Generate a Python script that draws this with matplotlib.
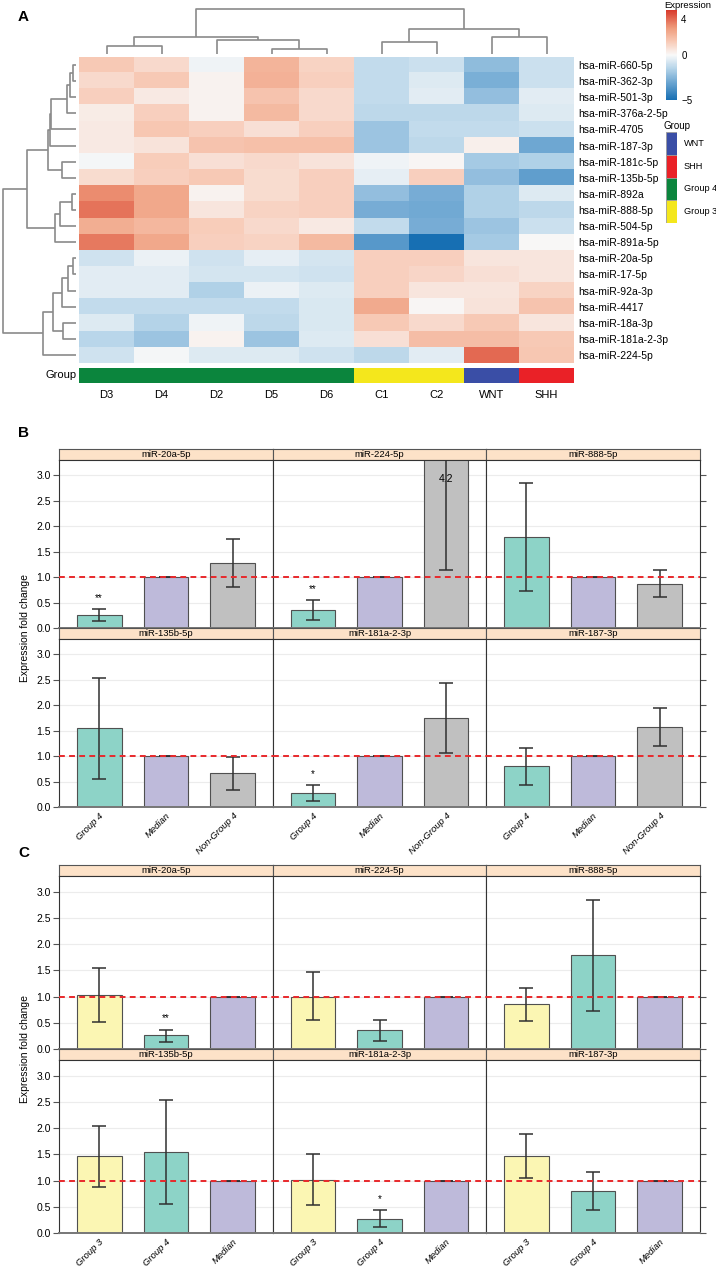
import matplotlib
matplotlib.use("Agg")
import matplotlib.pyplot as plt
import numpy as np
from matplotlib.colors import LinearSegmentedColormap, ListedColormap
from matplotlib.patches import Rectangle

plt.rcParams['font.family'] = ['Liberation Sans', 'DejaVu Sans']

# ---------------- data: panel A ----------------
samples = ['D3', 'D4', 'D2', 'D5', 'D6', 'C1', 'C2', 'WNT', 'SHH']
sample_group = ['Group 4'] * 5 + ['Group 3'] * 2 + ['WNT', 'SHH']
mirnas = ['hsa-miR-660-5p', 'hsa-miR-362-3p', 'hsa-miR-501-3p', 'hsa-miR-376a-2-5p',
          'hsa-miR-4705', 'hsa-miR-187-3p', 'hsa-miR-181c-5p', 'hsa-miR-135b-5p',
          'hsa-miR-892a', 'hsa-miR-888-5p', 'hsa-miR-504-5p', 'hsa-miR-891a-5p',
          'hsa-miR-20a-5p', 'hsa-miR-17-5p', 'hsa-miR-92a-3p', 'hsa-miR-4417',
          'hsa-miR-18a-3p', 'hsa-miR-181a-2-3p', 'hsa-miR-224-5p']
expression = [
    [1.5, 1.0, -0.2, 2.2, 1.2, -1.2, -1.0, -2.3, -1.0],
    [1.0, 1.5, 0.2, 2.3, 1.3, -1.2, -0.6, -2.7, -1.0],
    [1.3, 0.5, 0.2, 1.7, 1.0, -1.2, -0.5, -2.2, -0.5],
    [0.4, 1.3, 0.2, 2.0, 1.0, -1.3, -1.3, -1.3, -0.6],
    [0.5, 1.6, 1.3, 0.8, 1.3, -2.0, -1.2, -1.2, -1.0],
    [0.5, 0.7, 1.7, 1.8, 1.8, -2.0, -1.3, 0.3, -3.0],
    [-0.1, 1.4, 0.8, 1.0, 0.7, -0.2, 0.1, -1.8, -1.6],
    [0.9, 1.3, 1.5, 0.9, 1.3, -0.4, 1.3, -2.2, -3.3],
    [3.3, 2.6, 0.2, 0.9, 1.3, -2.2, -2.8, -1.6, -0.6],
    [3.8, 2.6, 0.6, 1.2, 1.3, -2.8, -2.9, -1.6, -1.3],
    [2.4, 2.1, 1.4, 1.0, 0.5, -1.2, -2.8, -2.0, -1.0],
    [3.7, 2.6, 1.3, 1.2, 2.0, -3.5, -5.0, -1.8, 0.05],
    [-0.9, -0.3, -0.9, -0.4, -0.8, 1.3, 1.3, 0.6, 0.6],
    [-0.5, -0.5, -0.8, -0.8, -0.9, 1.3, 1.1, 0.8, 0.6],
    [-0.5, -0.5, -1.6, -0.3, -0.6, 1.3, 0.6, 0.6, 1.2],
    [-1.2, -1.2, -1.2, -1.2, -0.7, 2.5, 0.1, 0.7, 1.7],
    [-0.6, -1.5, -0.2, -1.3, -0.7, 1.5, 1.0, 1.5, 0.6],
    [-1.4, -2.0, 0.2, -2.0, -0.6, 0.8, 1.9, 1.9, 1.5],
    [-0.9, -0.1, -0.6, -0.6, -0.9, -1.3, -0.5, 4.0, 1.6],
]
# dendrograms: (left, right, height), leaves are row/column indices
row_tree = ((((((0, 1, 0.04), 2, 0.08), 3, 0.12), 4, 0.34), 5, 0.36), (6, 7, 0.19), 0.38)
row_tree = (row_tree, (((8, 9, 0.05), 10, 0.22), 11, 0.29), 0.67)
row_tree = (row_tree, (((((12, 13, 0.04), 14, 0.11), 15, 0.19), (16, 17, 0.18), 0.32), 18, 0.45), 1.0)
col_tree = (((0, 1, 0.18), (2, (3, 4, 0.11), 0.31), 0.38), ((5, 6, 0.27), (7, 8, 0.38), 0.56), 1.0)

group_names = ['WNT', 'SHH', 'Group 4', 'Group 3']
group_colors = ['#3a4ea6', '#ea2127', '#0b853d', '#f4e71c']

# ---------------- data: panels B and C ----------------
genes = ['miR-20a-5p', 'miR-224-5p', 'miR-888-5p', 'miR-135b-5p', 'miR-181a-2-3p', 'miR-187-3p']
g4 = [0.26, 0.36, 1.79, 1.55, 0.27, 0.80]
g4_lo = [0.14, 0.16, 0.73, 0.55, 0.11, 0.43]
g4_hi = [0.37, 0.55, 2.84, 2.53, 0.43, 1.16]
median = [1.0, 1.0, 1.0, 1.0, 1.0, 1.0]
nong4 = [1.28, 4.2, 0.87, 0.66, 1.75, 1.57]
nong4_lo = [0.81, 1.14, 0.61, 0.33, 1.06, 1.20]
nong4_hi = [1.75, 7.26, 1.13, 0.99, 2.43, 1.94]
g3 = [1.03, 1.00, 0.85, 1.46, 1.02, 1.46]
g3_lo = [0.51, 0.55, 0.54, 0.88, 0.54, 1.04]
g3_hi = [1.54, 1.46, 1.16, 2.05, 1.51, 1.88]
stars_b = {0: (0, '**'), 1: (0, '**'), 4: (0, '*')}
stars_c = {0: (1, '**'), 4: (1, '*')}

W, H = 716, 1272
fig = plt.figure(figsize=(W / 100, H / 100), dpi=100)


def ax_px(x0, y0, x1, y1, **kw):
    return fig.add_axes([x0 / W, 1 - y1 / H, (x1 - x0) / W, (y1 - y0) / H], **kw)


def draw_tree(ax, node, orient):
    # returns (position, height); draws the U links
    if isinstance(node, int):
        return node + 0.5, 0.0
    a, b, h = node
    pa, ha = draw_tree(ax, a, orient)
    pb, hb = draw_tree(ax, b, orient)
    p = [pa, pa, pb, pb]
    q = [ha, h, h, hb]
    if orient == 'top':
        ax.plot(p, q, color='#8a8a8a', lw=1.2, solid_capstyle='butt')
    else:
        ax.plot(q, p, color='#8a8a8a', lw=1.2, solid_capstyle='butt')
    return (pa + pb) / 2, h


# ---------------- panel A ----------------
fig.text(18 / W, 1 - 17 / H, 'A', fontsize=11, fontweight='bold', va='center')

cmap = LinearSegmentedColormap.from_list('expr', [
    (0.0, '#176fb3'), (0.2, '#6ea7d2'), (0.35, '#b5d4e9'), (0.5, '#f9f9f9'),
    (0.65, '#f8cab6'), (0.8, '#ef9c7c'), (1.0, '#d8392b')])

hm = ax_px(79, 57, 574, 363)
im = hm.imshow(np.array(expression), cmap=cmap, vmin=-5, vmax=5, aspect='auto',
               interpolation='nearest', extent=(0, 9, len(mirnas), 0))
hm.set_xticks([])
hm.yaxis.tick_right()
hm.set_yticks(np.arange(len(mirnas)) + 0.5)
hm.set_yticklabels(mirnas, fontsize=7.5)
hm.tick_params(axis='y', length=0, pad=3)
for s in hm.spines.values():
    s.set_visible(False)

rd = ax_px(0, 57, 79, 363)
draw_tree(rd, row_tree, 'left')
rd.set_ylim(len(mirnas), 0)
rd.set_xlim(76 / 73, -3 / 73)
rd.axis('off')

cd = ax_px(79, 0, 574, 57)
draw_tree(cd, col_tree, 'top')
cd.set_xlim(0, 9)
cd.set_ylim(-3 / 45, 54 / 45)
cd.axis('off')

gb = ax_px(79, 368, 574, 383)
gidx = [[group_names.index(g) for g in sample_group]]
gb.imshow(gidx, cmap=ListedColormap(group_colors), vmin=-0.5, vmax=3.5, aspect='auto',
          extent=(0, 9, 1, 0), interpolation='nearest')
gb.set_yticks([])
gb.set_xticks(np.arange(9) + 0.5)
gb.set_xticklabels(samples, fontsize=8)
gb.tick_params(axis='x', length=0, pad=5)
for s in gb.spines.values():
    s.set_visible(False)
gb.text(-0.004, 0.5, 'Group', transform=gb.transAxes, ha='right', va='center', fontsize=8)

cax = ax_px(666, 10, 677, 100)
cb = fig.colorbar(im, cax=cax, ticks=[4, 0, -5])
cb.ax.set_yticklabels(['4', '0', '\u22125'], fontsize=7)
cb.ax.tick_params(length=0, pad=3)
cb.outline.set_visible(False)
fig.text(664 / W, 1 - 5 / H, 'Expression', fontsize=6.8, va='center', ha='left')

lg = ax_px(666, 132, 677, 223)
for i, (name, col) in enumerate(zip(group_names, group_colors)):
    lg.add_patch(Rectangle((0, 3 - i), 1, 1, facecolor=col, edgecolor='#9a9a9a', lw=0.6))
    lg.text(1.6, 3.5 - i, name, fontsize=6.6, va='center', ha='left')
lg.set_xlim(0, 1)
lg.set_ylim(0, 4)
lg.axis('off')
fig.text(664 / W, 1 - 126 / H, 'Group', fontsize=7, va='center', ha='left')


# ---------------- panels B and C ----------------
def bar_panels(top_px, row_h, strip_h, cats, series, colors, stars, letter, letter_y):
    fig.text(18 / W, 1 - letter_y / H, letter, fontsize=11, fontweight='bold', va='center')
    xs = [59, 273, 486, 700]
    for k, gene in enumerate(genes):
        r, c = divmod(k, 3)
        y0 = top_px + r * (row_h + strip_h)
        st = ax_px(xs[c], y0, xs[c + 1], y0 + strip_h)
        st.set_facecolor('#fde2c8')
        st.set_xticks([])
        st.set_yticks([])
        for s in st.spines.values():
            s.set_color('#555555')
            s.set_linewidth(0.8)
        st.text(0.5, 0.5, gene, ha='center', va='center', fontsize=6.8, transform=st.transAxes)

        ax = ax_px(xs[c], y0 + strip_h, xs[c + 1], y0 + strip_h + row_h)
        ax.set_xlim(0.4, 3.6)
        ax.set_ylim(0, 3.3)
        ax.set_yticks(np.arange(0, 3.01, 0.5))
        ax.grid(axis='y', color='#ececec', lw=0.8)
        ax.set_axisbelow(True)
        pos = [1, 2, 3]
        for j, (vals, lo, hi) in enumerate(series):
            v = vals[k]
            ax.bar(pos[j], v, width=0.67, color=colors[j], edgecolor='#505050', lw=0.8, zorder=2)
            ax.errorbar(pos[j], v, yerr=[[v - lo[k]], [hi[k] - v]], color='#303030', lw=1.1,
                        capsize=5, capthick=1.1, zorder=4)
            if v > 3.3:
                ax.text(pos[j], 2.93, f'{v:.1f}', ha='center', va='center', fontsize=7.5, zorder=3)
        if k in stars:
            j, s = stars[k]
            ax.text(pos[j], series[j][2][k] + 0.22, s, ha='center', va='center', fontsize=7)
        ax.axhline(1.0, color='#e8282b', lw=1.4, ls=(0, (3, 2.2)), zorder=5)
        for name in ['top', 'left', 'right']:
            ax.spines[name].set_color('#333333')
            ax.spines[name].set_linewidth(0.8)
        ax.spines['bottom'].set_color('#777777')
        ax.spines['bottom'].set_linewidth(1.4)
        if c == 0:
            ax.tick_params(axis='y', labelsize=7.5, length=4, width=0.8, color='#555555', pad=2)
        elif c == 2:
            ax.yaxis.tick_right()
            ax.tick_params(axis='y', labelright=False, length=4, width=0.8, color='#555555')
        else:
            ax.tick_params(axis='y', length=0, labelleft=False)
        ax.set_xticks(pos)
        if r == 1:
            ax.set_xticklabels(cats, rotation=45, ha='right', rotation_mode='anchor',
                               fontsize=6.8, style='italic')
            ax.tick_params(axis='x', length=0, pad=3)
        else:
            ax.tick_params(axis='x', length=0, labelbottom=False)
    mid = top_px + row_h + strip_h
    fig.text(25 / W, 1 - mid / H, 'Expression fold change', rotation=90, ha='center',
             va='center', fontsize=7.5)


bar_panels(449, 168, 11, ['Group 4', 'Median', 'Non-Group 4'],
           [(g4, g4_lo, g4_hi), (median, median, median), (nong4, nong4_lo, nong4_hi)],
           ['#8dd3c7', '#bebada', '#c0c0c0'], stars_b, 'B', 433)
bar_panels(865, 173, 11, ['Group 3', 'Group 4', 'Median'],
           [(g3, g3_lo, g3_hi), (g4, g4_lo, g4_hi), (median, median, median)],
           ['#fbf6b3', '#8dd3c7', '#bebada'], stars_c, 'C', 853)

fig.savefig('out.png', dpi=100)
